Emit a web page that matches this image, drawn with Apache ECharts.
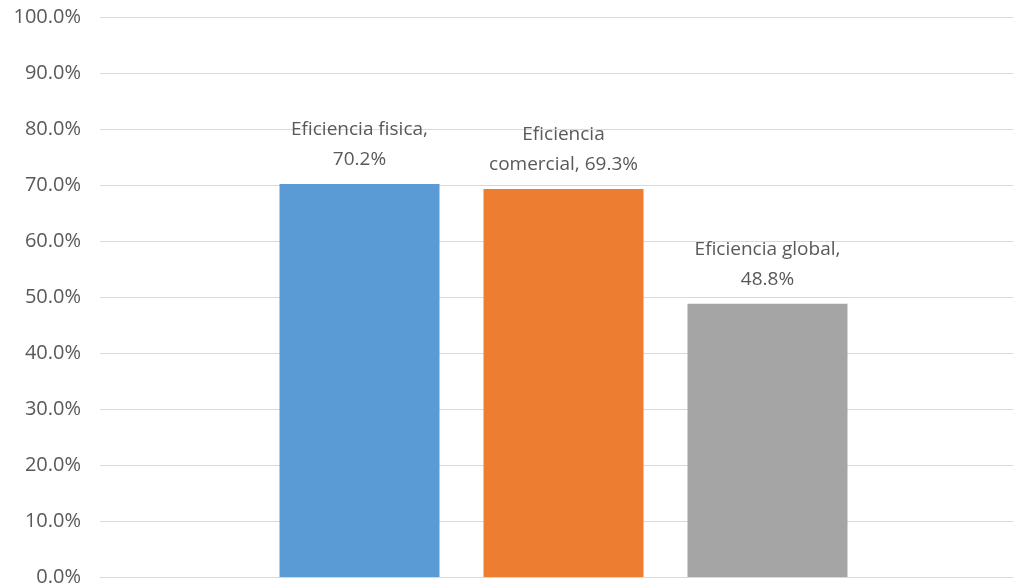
<!DOCTYPE html>
<html>
<head>
<meta charset="utf-8">
<style>
  html, body { margin: 0; padding: 0; background: #ffffff; }
  #chart { width: 1013px; height: 585px; }
</style>
<script src="https://cdn.jsdelivr.net/npm/echarts@6/dist/echarts.min.js"></script>
</head>
<body>
<div id="chart"></div>
<script>
// Efficiency indicators (percent)
const seriesNames = ['Eficiencia fisica', 'Eficiencia comercial', 'Eficiencia global'];
const values = [70.2, 69.3, 48.8];
const barColors = ['#5B9BD5', '#ED7D31', '#A5A5A5'];
// Label text split into two lines per bar
const labelLines = [
  ['Eficiencia fisica,', '70.2%'],
  ['Eficiencia', 'comercial, 69.3%'],
  ['Eficiencia global,', '48.8%']
];

const chart = echarts.init(document.getElementById('chart'), null, { renderer: 'canvas' });
const FONT = '"Open Sans", "Liberation Sans", sans-serif';
const TEXT = '#595959';

const series = seriesNames.map((name, i) => ({
  name: name,
  type: 'bar',
  data: [values[i]],
  barWidth: 160,
  barGap: '27.5%',
  itemStyle: { color: barColors[i] },
  label: {
    show: true,
    position: 'top',
    distance: 9,
    color: TEXT,
    fontFamily: FONT,
    fontSize: 19,
    lineHeight: 30,
    align: 'center',
    formatter: () => labelLines[i].join('\n')
  }
}));

chart.setOption({
  animation: false,
  backgroundColor: '#ffffff',
  // plot area runs a little past the right edge of the canvas
  grid: {
    left: 100, width: 927, top: 17, height: 560,
    containLabel: false,
    outerBoundsMode: 'none'
  },
  xAxis: {
    type: 'category',
    data: [''],
    axisLine: { show: true, lineStyle: { color: '#D9D9D9', width: 1 } },
    axisTick: { show: false },
    axisLabel: { show: false }
  },
  yAxis: {
    type: 'value',
    min: 0,
    max: 100,
    interval: 10,
    axisLine: { show: false },
    axisTick: { show: false },
    splitLine: { lineStyle: { color: '#D9D9D9', width: 1 } },
    axisLabel: {
      color: TEXT,
      fontFamily: FONT,
      fontSize: 20,
      margin: 19,
      formatter: v => v.toFixed(1) + '%'
    }
  },
  series: series
});
</script>
</body>
</html>
